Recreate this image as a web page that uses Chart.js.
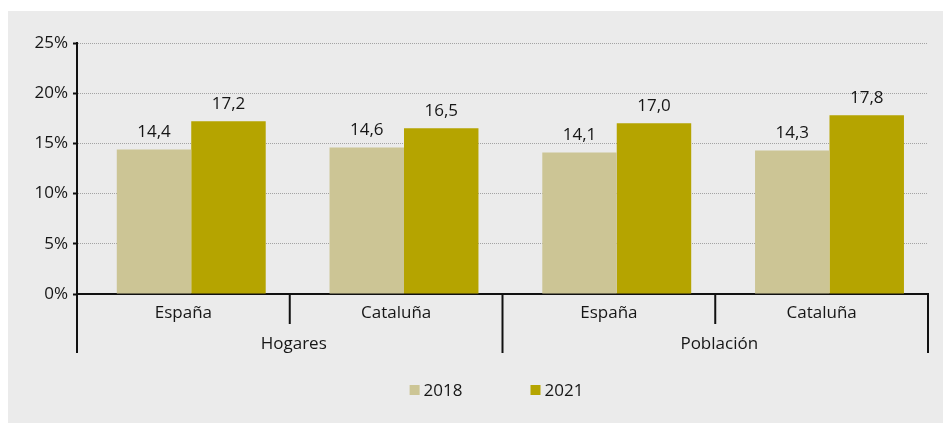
<!DOCTYPE html>
<html><head><meta charset="utf-8">
<script src="https://cdn.jsdelivr.net/npm/chart.js@4/dist/chart.umd.min.js"></script>
<style>
html,body{margin:0;padding:0;background:#fff;width:943px;height:423px;overflow:hidden}
#panel{position:absolute;left:8px;top:11px;width:935px;height:412px;background:#ebebeb}
#wrap{position:absolute;left:0;top:0;width:943px;height:423px}
</style></head><body>
<div id="panel"></div>
<div id="wrap"><canvas id="c" width="943" height="423"></canvas></div>
<script>
const categories = ['España', 'Cataluña', 'España', 'Cataluña'];
const groups = ['Hogares', 'Población'];
const seriesNames = ['2018', '2021'];
const values2018 = [14.4, 14.6, 14.1, 14.3];
const values2021 = [17.2, 16.5, 17.0, 17.8];
const yMin = 0, yMax = 25, yStep = 5;

const FONT = '"Open Sans", Lato, sans-serif';
const FS = 17;
const TEXT = '#161616';
const colors = ['#ccc595', '#b5a400'];
const fmt = v => v.toFixed(1).replace('.', ',');
const barShift = 0.037; // bars sit slightly right of the category centres in the original
const toPoints = arr => arr.map((v, i) => ({ x: i, y: v }));

const decor = {
  id: 'decor',
  afterDatasetsDraw(chart) {
    const ctx = chart.ctx;
    ctx.save();
    ctx.font = FS + 'px ' + FONT;
    ctx.fillStyle = TEXT;
    ctx.textAlign = 'center';
    ctx.textBaseline = 'middle';
    chart.data.datasets.forEach((ds, i) => {
      chart.getDatasetMeta(i).data.forEach((bar, j) => {
        ctx.fillText(fmt(ds.data[j].y), bar.x, bar.y - 17);
      });
    });
    ctx.restore();
  },
  afterDraw(chart) {
    const { ctx, chartArea: a, scales } = chart;
    const x = scales.x, x2 = scales.x2;
    ctx.save();
    ctx.strokeStyle = '#111';
    ctx.lineWidth = 2;
    const n = categories.length;
    const per = n / groups.length;
    const bounds = [];
    for (let i = 0; i <= n; i++) {
      let px;
      if (i === 0) px = a.left;
      else if (i === n) px = a.right;
      else px = (x.getPixelForValue(i - 1) + x.getPixelForValue(i)) / 2;
      bounds.push(px);
    }
    bounds.forEach((px, i) => {
      const yEnd = (i % per === 0) ? x2.bottom - 1 : x.bottom;
      ctx.beginPath();
      ctx.moveTo(px, a.bottom);
      ctx.lineTo(px, yEnd);
      ctx.stroke();
    });
    // legend
    ctx.font = FS + 'px ' + FONT;
    ctx.textBaseline = 'middle';
    ctx.textAlign = 'left';
    const box = 10, gap = 4, spacing = 68;
    const widths = seriesNames.map(s => box + gap + ctx.measureText(s).width);
    const total = widths.reduce((p, c) => p + c, 0) + spacing * (seriesNames.length - 1);
    let cx = (a.left + a.right) / 2 - 6 - total / 2;
    const cy = x2.bottom + 36;
    seriesNames.forEach((s, i) => {
      ctx.fillStyle = colors[i];
      ctx.fillRect(cx, cy - box / 2, box, box);
      ctx.fillStyle = TEXT;
      ctx.fillText(s, cx + box + gap, cy + 1);
      cx += widths[i] + spacing;
    });
    ctx.restore();
  }
};

new Chart(document.getElementById('c'), {
  type: 'bar',
  data: {
    labels: categories,
    datasets: [
      { label: seriesNames[0], data: toPoints(values2018), xAxisID: 'xb', backgroundColor: colors[0], borderWidth: 0, categoryPercentage: 0.7, barPercentage: 1.0 },
      { label: seriesNames[1], data: toPoints(values2021), xAxisID: 'xb', backgroundColor: colors[1], borderWidth: 0, categoryPercentage: 0.7, barPercentage: 1.0 }
    ]
  },
  options: {
    responsive: false,
    animation: false,
    devicePixelRatio: 1,
    layout: { padding: { left: 8, right: 15, top: 43, bottom: 69 } },
    plugins: { legend: { display: false }, tooltip: { enabled: false } },
    scales: {
      xb: {
        type: 'linear',
        display: false,
        offset: false,
        grace: 0,
        min: -0.5 - barShift,
        max: categories.length - 0.5 - barShift,
        afterBuildTicks: s => { s.ticks = categories.map((_, i) => ({ value: i })); }
      },
      y: {
        min: yMin, max: yMax,
        ticks: { stepSize: yStep, callback: v => v + '%', color: TEXT, font: { family: FONT, size: FS }, padding: 5 },
        grid: { color: '#a3a3a3', lineWidth: 1, tickLength: 4, tickColor: '#111', tickWidth: 2, tickBorderDash: [] },
        border: { display: true, color: '#111', width: 2, dash: [1, 1] },
        afterFit: s => { s.width = 69; }
      },
      x: {
        type: 'category',
        labels: categories,
        offset: true,
        ticks: { color: TEXT, font: { family: FONT, size: FS }, padding: 9 },
        grid: { display: false, drawTicks: false },
        border: { display: true, color: '#111', width: 2 },
        afterFit: s => { s.height = 30; }
      },
      x2: {
        type: 'category',
        position: 'bottom',
        labels: groups,
        offset: true,
        ticks: { color: TEXT, font: { family: FONT, size: FS }, padding: 10, labelOffset: 4 },
        grid: { display: false, drawTicks: false },
        border: { display: false },
        afterFit: s => { s.height = 30; }
      }
    }
  },
  plugins: [decor]
});
</script>
</body></html>
